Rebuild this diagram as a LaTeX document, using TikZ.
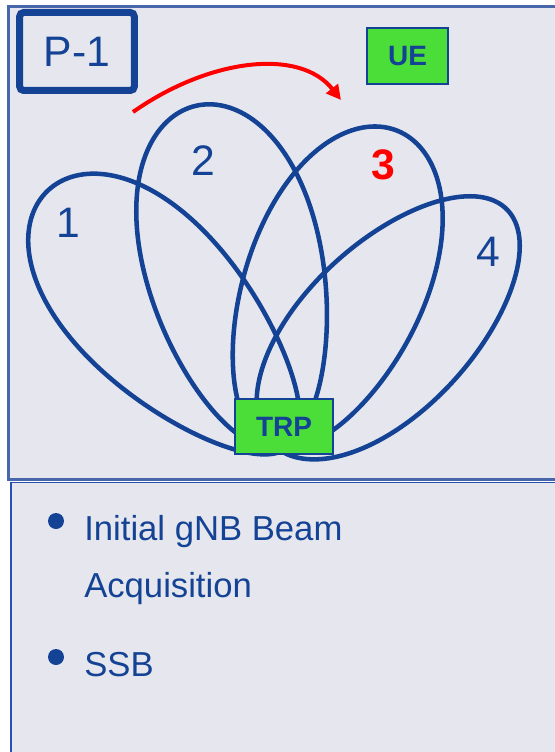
\documentclass[tikz,border=0pt]{standalone}
\usepackage{fontspec}
\setmainfont{Liberation Sans}
\usetikzlibrary{arrows.meta}
\definecolor{beamblue}{RGB}{20,66,148}
\definecolor{panelgray}{RGB}{230,231,238}
\definecolor{frameblue}{RGB}{72,102,170}
\definecolor{lowframe}{RGB}{40,80,180}
\definecolor{boxgreen}{RGB}{76,222,56}
\tikzset{
  panel/.style={draw=frameblue, fill=panelgray, line width=1.2pt},
  tag/.style={draw=beamblue, fill=boxgreen, line width=1.1pt, text=beamblue,
    font=\bfseries\fontsize{21}{24}\selectfont, inner sep=0pt},
  beamlabel/.style={text=beamblue, font=\fontsize{32}{36}\selectfont, inner sep=0pt},
  item/.style={text=beamblue, font=\fontsize{26}{30}\selectfont, anchor=base west, inner sep=0pt},
  dot/.style={circle, fill=beamblue, minimum size=12pt, inner sep=0pt},
}
\begin{document}
\begin{tikzpicture}[x=0.75pt, y=-0.75pt]
  \useasboundingbox (0,0) rectangle (554,752);
  \fill[white] (0,0) rectangle (554,752);
  % panels
  \draw[panel, line width=1.6pt] (8.5,6.5) rectangle (570,479.5);
  \draw[panel, draw=lowframe] (11,482.5) rectangle (570,770);
  % P-1 tag
  \node[draw=beamblue, line width=5.25pt, rounded corners=3pt, text=beamblue,
    minimum width=86pt, minimum height=58.5pt, inner sep=0pt,
    font=\fontsize{32}{36}\selectfont] (pone) at (77,51.5) {P-1};
  % beams: base point, angle, length, half width, egg factor
  \foreach \bx/\by/\ang/\len/\wid/\k in {290/446/133.5/352/84/0.2,
      278/446/103.7/350/88/0.15, 270/446/68/340/90/0.1, 272/444/45/332/84/-0.05}
    \draw[beamblue, line width=3.4pt, line join=round, shift={(\bx,\by)}, rotate=\ang]
      plot[variable=\t, domain=0:360, samples=120, smooth]
      ({\len/2*(1-cos(\t))}, {\wid*sin(\t)*(1-\k*cos(\t))}) -- cycle;
  % beam numbers
  \node[beamlabel] (lone) at (68,223) {1};
  \node[beamlabel] (ltwo) at (203,161) {2};
  \node[beamlabel, text=red, font=\bfseries\fontsize{32}{36}\selectfont] (lthree) at (383,165) {3};
  \node[beamlabel] (lfour) at (488,252) {4};
  % UE and TRP
  \node[tag, minimum width=60.75pt, minimum height=42pt] (ue) at (407.5,56) {UE};
  \node[tag, minimum width=73.5pt, minimum height=41.25pt] (trp) at (284,426.5) {TRP};
  % sweep arrow
  \coordinate (sweepS) at (133,112);
  \coordinate (sweepE) at (341,100);
  \draw[red, line width=3pt, -{Triangle[length=11pt,width=11pt]}]
    (sweepS) .. controls (210,58) and (300,48) .. (sweepE);
  % bullets
  \node[dot] (bone) at (56,521) {};
  \node[item] (tone) at (84,540) {Initial gNB Beam};
  \node[item] (ttwo) at (84,597) {Acquisition};
  \node[dot] (btwo) at (56,657) {};
  \node[item] (tthree) at (84,676) {SSB};
\end{tikzpicture}
\end{document}
